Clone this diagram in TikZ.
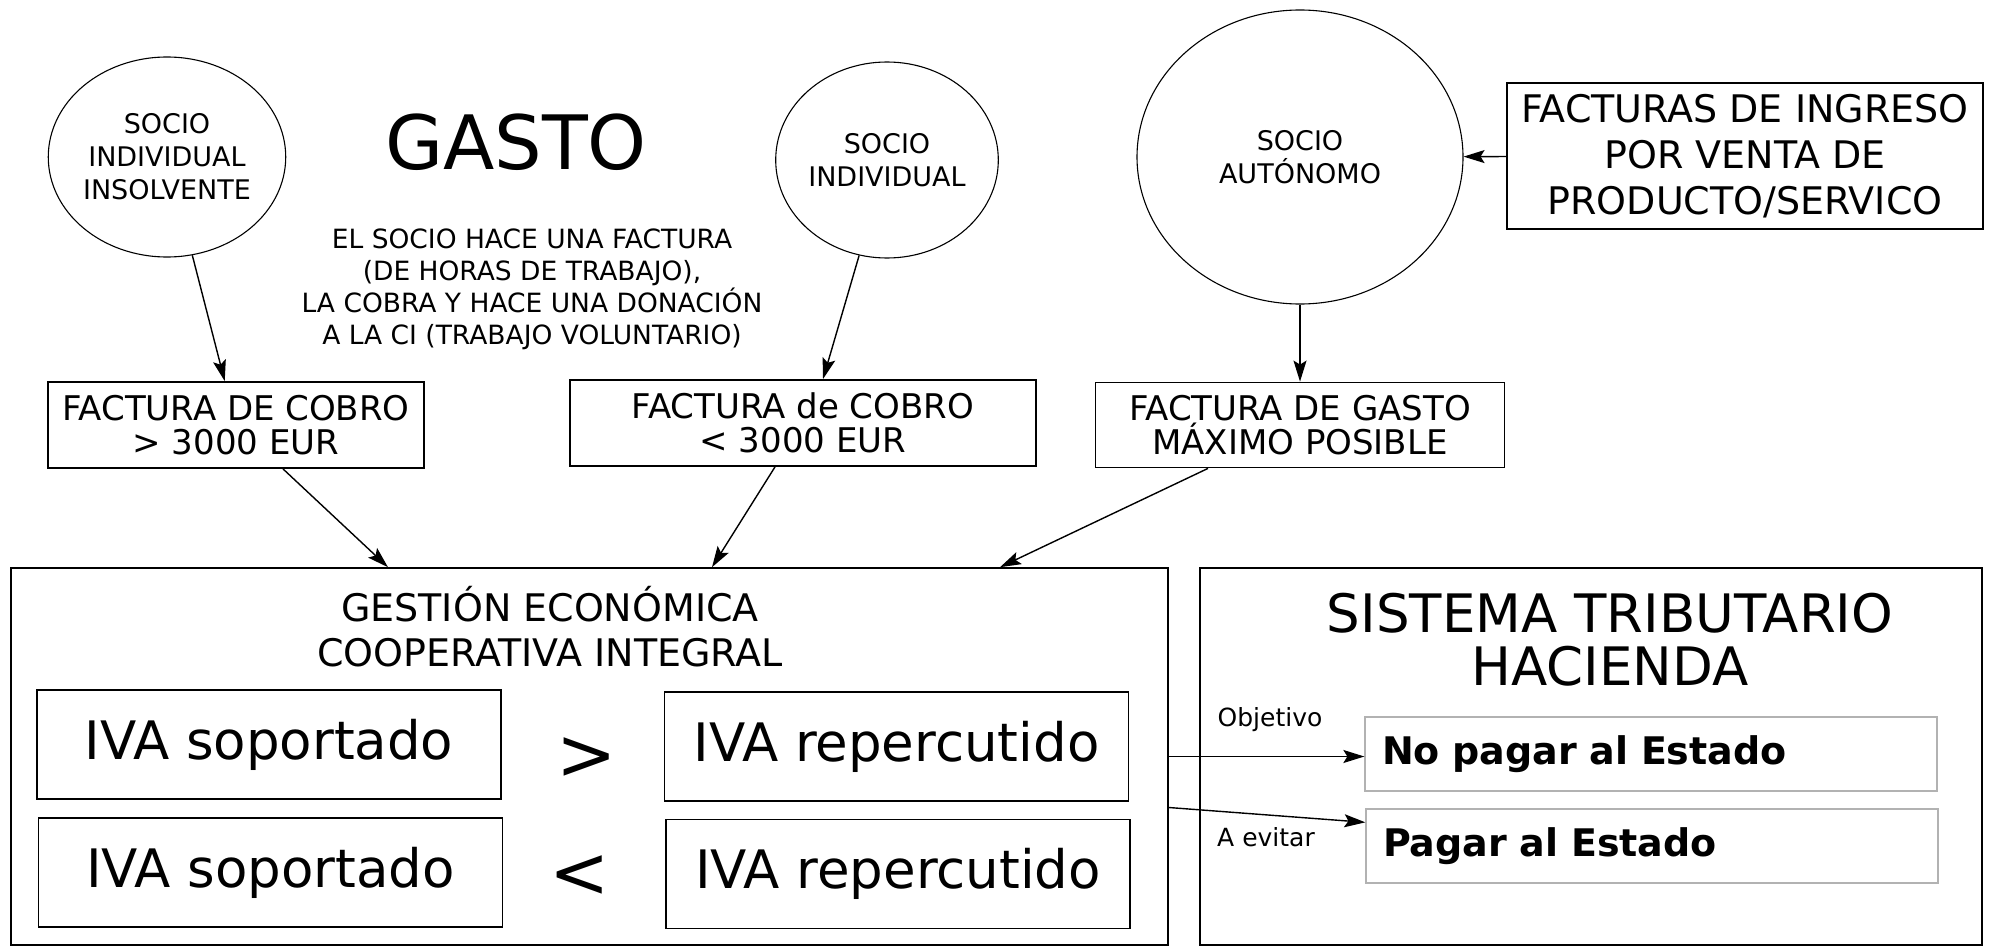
\documentclass[tikz,border=0pt]{standalone}
\usepackage{fontspec}
\setmainfont{DejaVu Sans}
\usetikzlibrary{arrows.meta,shapes.geometric}

\begin{document}
\begin{tikzpicture}[x=1pt,y=-1pt,line width=1.4pt,
>={Stealth[length=21pt,width=13pt,inset=4pt]},
socio/.style={draw,ellipse,line width=1.1pt,inner sep=0pt,align=center,font=\fontsize{27}{33}\selectfont},
factura/.style={draw,line width=1.8pt,inner sep=0pt,align=center,font=\fontsize{34}{34}\selectfont},
iva/.style={draw,line width=1.6pt,inner sep=0pt,minimum width=464pt,minimum height=109pt,font=\fontsize{53}{60}\selectfont},
bloque/.style={draw,line width=1.6pt,inner sep=0pt,minimum height=377pt},
estado/.style={draw=gray!60,line width=1.3pt,inner xsep=17pt,inner ysep=0pt,text width=538pt,minimum height=74pt,align=left,font=\fontsize{38}{40}\selectfont\bfseries},
nota/.style={font=\fontsize{25}{28}\selectfont}]
\useasboundingbox (0,0) rectangle (1994,947);
% socios
\node[socio,minimum width=220pt,minimum height=200pt] (insolvente) at (167,157) {SOCIO\\INDIVIDUAL\\INSOLVENTE};
\node[socio,minimum width=184pt,minimum height=196pt] (individual) at (887,160) {SOCIO\\INDIVIDUAL};
\node[socio,minimum width=326pt,minimum height=294pt] (autonomo) at (1300,157) {SOCIO\\AUTÓNOMO};
\node[font=\fontsize{75}{80}\selectfont] (gasto) at (516,142) {GASTO};
\node[align=center,font=\fontsize{26.5}{32}\selectfont] (donacion) at (532,289) {EL SOCIO HACE UNA FACTURA\\(DE HORAS DE TRABAJO),\\LA COBRA Y HACE UNA DONACIÓN\\A LA CI (TRABAJO VOLUNTARIO)};
% facturas
\node[factura,minimum width=376pt,minimum height=86pt] (cobro1) at (236,425) {FACTURA DE COBRO\\> 3000 EUR};
\node[factura,minimum width=466pt,minimum height=86pt] (cobro2) at (803,423) {FACTURA de COBRO\\< 3000 EUR};
\node[factura,minimum width=409pt,minimum height=85pt] (gastomax) at (1300,425) {FACTURA DE GASTO\\MÁXIMO POSIBLE};
\node[factura,minimum width=476pt,minimum height=146pt,font=\fontsize{38}{46}\selectfont] (ingreso) at (1745,156) {FACTURAS DE INGRESO\\POR VENTA DE\\PRODUCTO/SERVICO};
% gestion economica
\node[bloque,minimum width=1157pt] (gestion) at (589.5,756.5) {};
\node[align=center,font=\fontsize{38}{45}\selectfont] (titulo) at (550,627) {GESTIÓN ECONÓMICA\\COOPERATIVA INTEGRAL};
\node[iva] (sop1) at (269,744.5) {IVA soportado};
\node[iva] (rep1) at (896.5,746.5) {IVA repercutido};
\node[iva] (sop2) at (270.5,872.5) {IVA soportado};
\node[iva] (rep2) at (898,874) {IVA repercutido};
\node[font=\fontsize{72}{72}\selectfont] (mayor) at (587,759) {>};
\node[font=\fontsize{72}{72}\selectfont] (menor) at (580,877) {<};
% hacienda
\node[bloque,minimum width=782pt] (hacienda) at (1591,756.5) {};
\node[align=center,font=\fontsize{53}{53}\selectfont] (sistema) at (1610,640) {SISTEMA TRIBUTARIO\\HACIENDA};
\node[estado] (nopagar) at (1651,754) {No pagar al Estado};
\node[estado] (pagar) at (1652,846) {Pagar al Estado};
\node[nota] (objetivo) at (1270,720) {Objetivo};
\node[nota] (evitar) at (1266,837) {A evitar};
% flechas
\draw[->] (insolvente) -- (cobro1);
\draw[->] (individual) -- ([xshift=20pt]cobro2.north);
\draw[->] (autonomo) -- (gastomax);
\draw[->] (ingreso) -- (autonomo);
\draw[->] ([xshift=47pt]cobro1.south) -- ([xshift=-201.5pt]gestion.north);
\draw[->] ([xshift=-28pt]cobro2.south) -- ([xshift=122.5pt]gestion.north);
\draw[->] ([xshift=-92pt]gastomax.south) -- ([xshift=410.5pt]gestion.north);
\draw[->] (gestion.east) -- (gestion.east -| nopagar.west);
\draw[->] ([yshift=-51pt]gestion.east) -- ([yshift=-14pt]pagar.north west);
\end{tikzpicture}
\end{document}
